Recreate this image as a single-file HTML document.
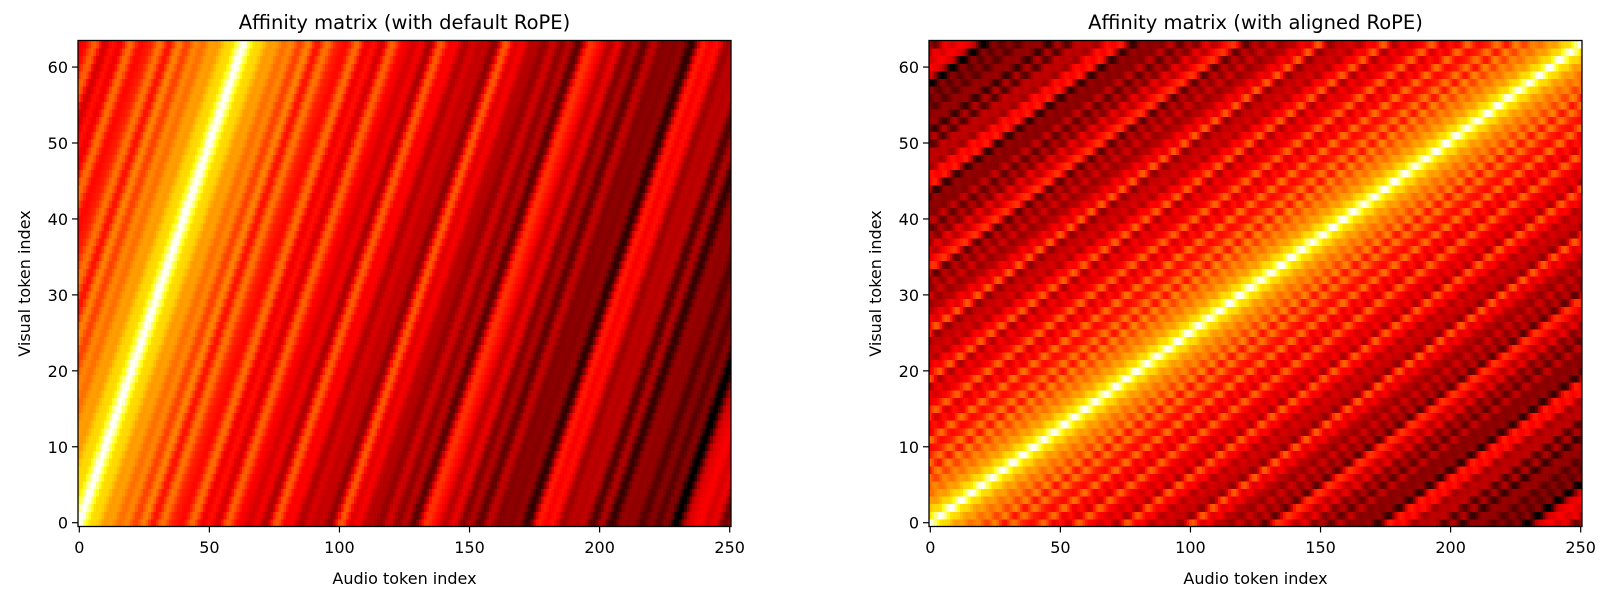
<!DOCTYPE html>
<html><head><meta charset="utf-8">
<style>
html,body{margin:0;padding:0;background:#fff;width:1611px;height:591px;overflow:hidden}
canvas{position:absolute;image-rendering:pixelated}
svg{position:absolute;left:0;top:0}
text{font-family:"DejaVu Sans","Liberation Sans",sans-serif;fill:#000}
</style></head><body>
<canvas id="c1" width="251" height="64" style="left:78px;top:40.5px;width:653px;height:486px"></canvas>
<canvas id="c2" width="251" height="64" style="left:929px;top:40.5px;width:653px;height:486px"></canvas>
<svg width="1611" height="591" id="s"></svg>
<script>
function f(d){var s=0,D=64;for(var i=0;i<D/2;i++){s+=Math.cos(d*Math.pow(10000,-2*i/D));}return s;}
function hot(x){var r=Math.min(1,Math.max(0,x/0.365)),g=Math.min(1,Math.max(0,(x-0.365)/0.375)),b=Math.min(1,Math.max(0,(x-0.74)/0.26));return [r*255,g*255,b*255];}
function draw(id,sc){
 var c=document.getElementById(id),ctx=c.getContext('2d'),im=ctx.createImageData(251,64),vals=[],mn=1e9,mx=-1e9;
 for(var v=0;v<64;v++)for(var a=0;a<251;a++){var x=f(a-v*sc);vals.push(x);if(x<mn)mn=x;if(x>mx)mx=x;}
 for(var v=0;v<64;v++)for(var a=0;a<251;a++){var x=(vals[v*251+a]-mn)/(mx-mn),col=hot(x),row=63-v,p=(row*251+a)*4;
  im.data[p]=col[0];im.data[p+1]=col[1];im.data[p+2]=col[2];im.data[p+3]=255;}
 ctx.putImageData(im,0,0);
}
draw('c1',1);draw('c2',250/63);
var s='';
[[78,'Affinity matrix (with default RoPE)'],[929,'Affinity matrix (with aligned RoPE)']].forEach(function(p){
 var L=p[0],T=40.5,B=526.5;
 s+='<rect x="'+L+'" y="'+T+'" width="653" height="486" fill="none" stroke="#000" stroke-width="1.3"/>';
 for(var i=0;i<=5;i++){var x=L+0.5*2.6016+i*50*2.6016;
  s+='<line x1="'+x+'" y1="'+B+'" x2="'+x+'" y2="'+(B+6)+'" stroke="#000" stroke-width="1.2"/>';
  s+='<text x="'+x+'" y="553" font-size="16" text-anchor="middle">'+(i*50)+'</text>';}
 for(var j=0;j<=6;j++){var y=B-0.5*7.594-j*10*7.594;
  s+='<line x1="'+(L-6)+'" y1="'+y+'" x2="'+L+'" y2="'+y+'" stroke="#000" stroke-width="1.2"/>';
  s+='<text x="'+(L-10)+'" y="'+(y+6)+'" font-size="16" text-anchor="end">'+(j*10)+'</text>';}
 s+='<text x="'+(L+326.5)+'" y="29" font-size="19.5" text-anchor="middle">'+p[1]+'</text>';
 s+='<text x="'+(L+326.5)+'" y="584" font-size="16" text-anchor="middle">Audio token index</text>';
 s+='<text transform="translate('+(L-48)+',283.5) rotate(-90)" font-size="16" text-anchor="middle">Visual token index</text>';
});
document.getElementById('s').innerHTML=s;
</script>
</body></html>
